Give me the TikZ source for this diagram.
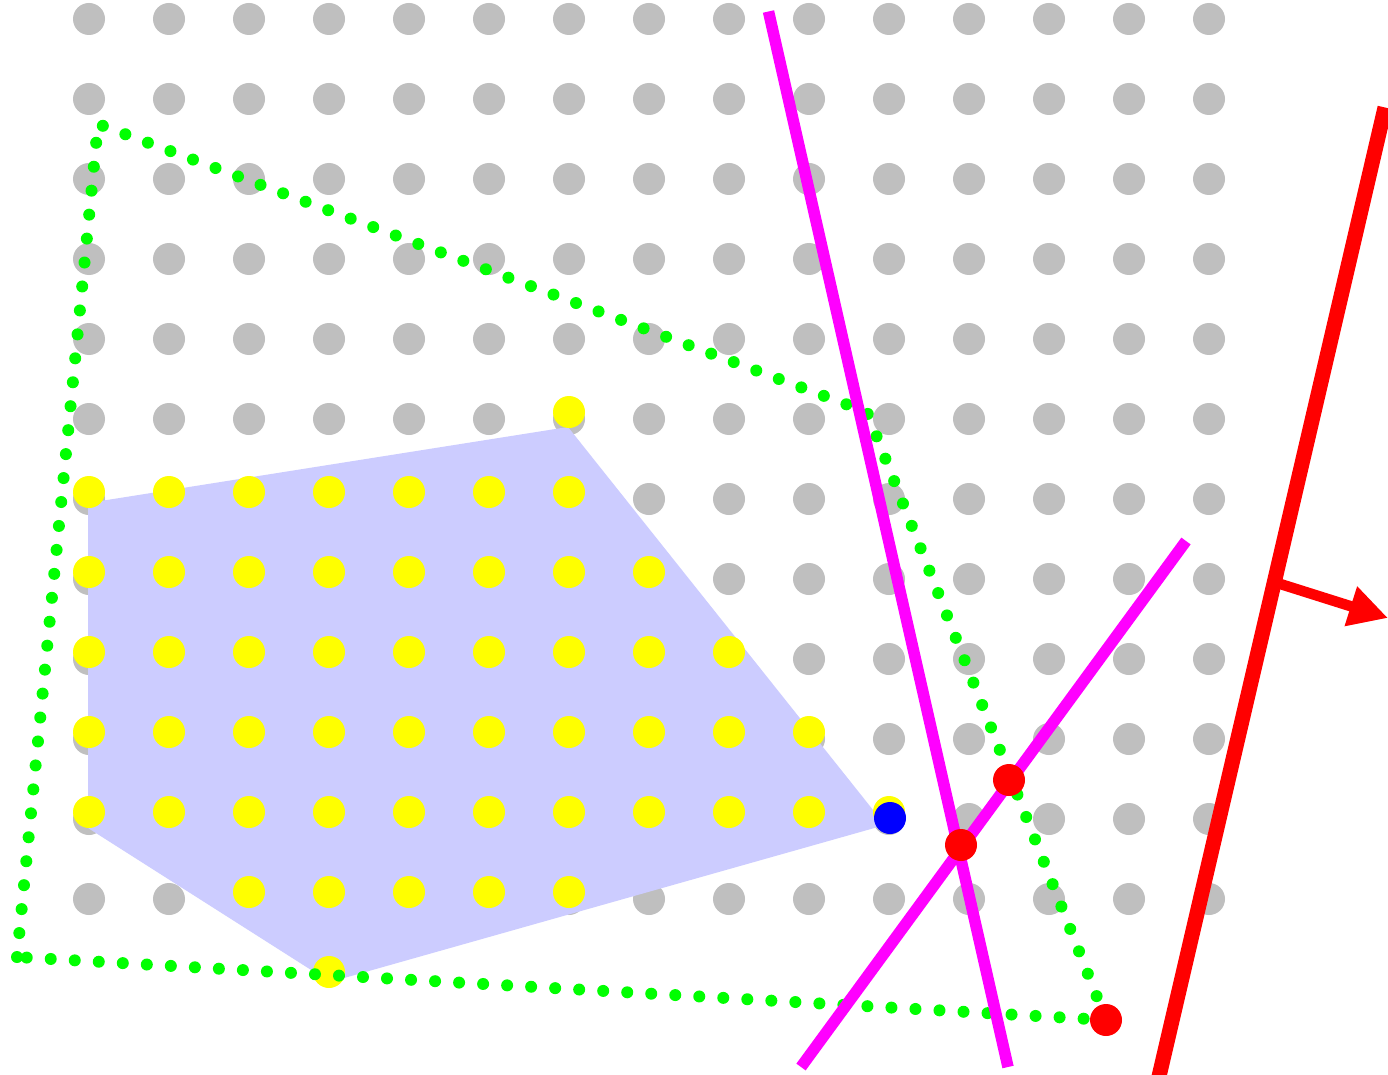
\documentclass[tikz,border=0pt]{standalone}
\usetikzlibrary{arrows.meta}
\definecolor{dotgray}{RGB}{191,191,191}
\definecolor{hullfill}{RGB}{204,204,255}
\definecolor{inyellow}{RGB}{255,255,0}
\definecolor{cutmagenta}{RGB}{255,0,255}
\definecolor{bndgreen}{RGB}{0,255,0}
\definecolor{pured}{RGB}{255,0,0}
\definecolor{pureblue}{RGB}{0,0,255}

\begin{document}
\begin{tikzpicture}[x=1pt, y=-1pt,
    lattice/.style={circle, fill=dotgray, inner sep=0pt, minimum size=32pt},
    inside/.style={circle, fill=inyellow, inner sep=0pt, minimum size=32pt},
    hit/.style={circle, fill=pured, inner sep=0pt, minimum size=32pt},
    seg/.style={cutmagenta, line width=11.5pt},
    bound/.style={bndgreen, line width=12pt, line cap=round, dash pattern=on 0pt off 24.06pt},
    wall/.style={pured, line width=15pt},
    normal/.style={pured, line width=10.5pt, -{Triangle[length=39pt,width=39pt]}}
  ]
    \useasboundingbox (0,0) rectangle (1388,1075);
    \fill[white] (0,0) rectangle (1388,1075);
    \clip (0,0) rectangle (1388,1075);

    % lattice points
    \foreach \c in {0,...,14}
      \foreach \r in {0,...,11}
        \node[lattice] (g-\c-\r) at ({89+80*\c},{19+80*\r}) {};

    % hull
    \coordinate (h1) at (88,503);
    \coordinate (h2) at (568,427);
    \coordinate (h3) at (885,825);
    \coordinate (h4) at (330,982);
    \coordinate (h5) at (88,828);
    \fill[hullfill] (h1) -- (h2) -- (h3) -- (h4) -- (h5) -- cycle;

    % points inside
    \foreach \r/\from/\to in {5/6/6, 6/0/6, 7/0/7, 8/0/8, 9/0/9, 10/0/10, 11/2/6, 12/3/3}
      \foreach \c in {\from,...,\to}
        \node[inside] (y-\c-\r) at ({89+80*\c},{12+80*\r}) {};

    % outer boundary
    \coordinate (b1) at (98,124);
    \coordinate (b2) at (867,412);
    \coordinate (b3) at (1106,1020);
    \coordinate (b4) at (17,957);
    \draw[bound] (b4) -- (b1) -- (b2) -- (b3) -- cycle;

    % cuts
    \coordinate (m1a) at (768.5,11.5);
    \coordinate (m1b) at (1008,1067);
    \coordinate (m2a) at (801,1067);
    \coordinate (m2b) at (1186,541);
    \draw[seg] (m1a) -- (m1b);
    \draw[seg] (m2a) -- (m2b);

    % separating line and its normal
    \coordinate (w1) at (1385,107.5);
    \coordinate (w2) at (1157,1085);
    \coordinate (foot) at (1274,582);
    \coordinate (tip) at (1388,618);
    \draw[wall] (w1) -- (w2);
    \draw[normal] (foot) -- (tip);

    \node[hit] (x1) at (1009,780) {};
    \node[hit] (x2) at (961,845) {};
    \node[hit] (x3) at (1106,1020) {};
    \node[circle, fill=pureblue, inner sep=0pt, minimum size=32pt] (best) at (890,818) {};
  \end{tikzpicture}
\end{document}
